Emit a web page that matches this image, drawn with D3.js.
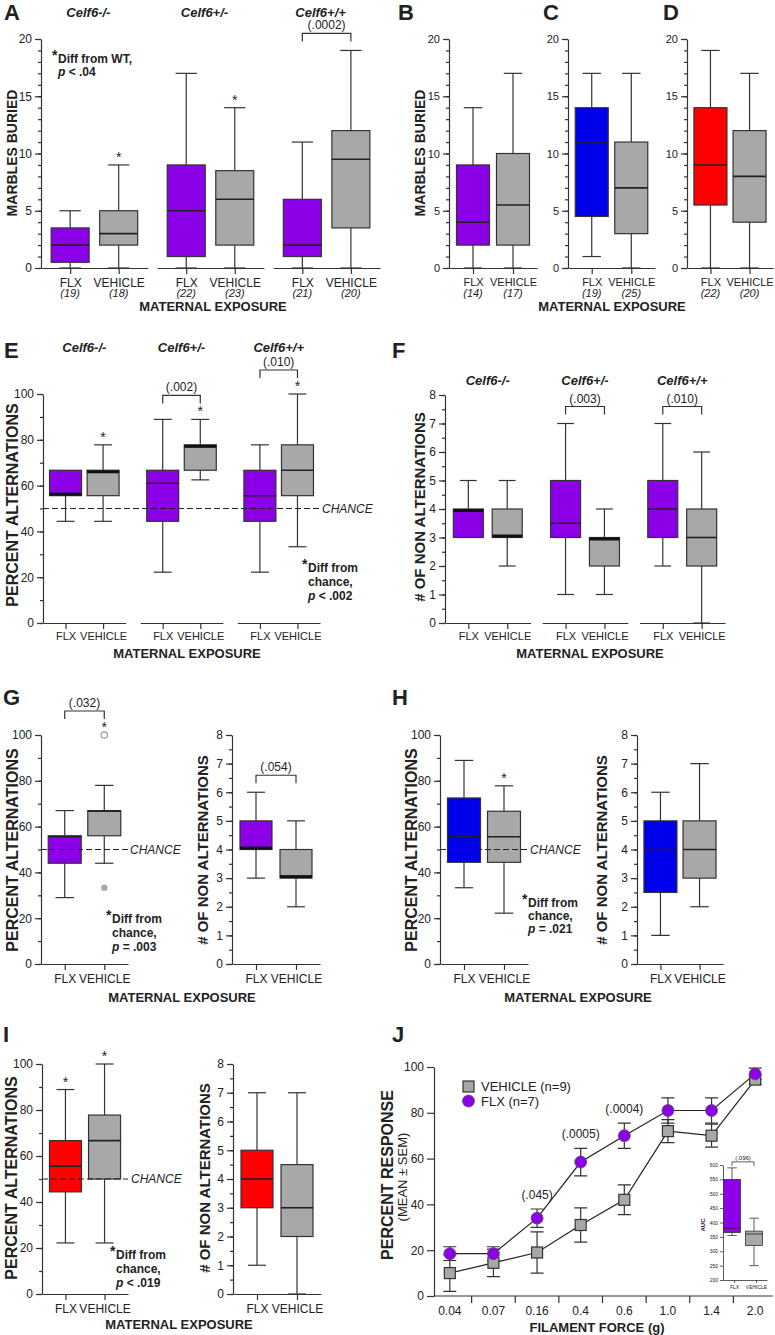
<!DOCTYPE html>
<html>
<head>
<meta charset="utf-8">
<script src="https://cdn.jsdelivr.net/npm/d3@7"></script>
<style>
  body { margin: 0; background: #fff; }
  svg text { font-family: "Liberation Sans", Arial, sans-serif; fill: #222; }
</style>
</head>
<body>
<div class="canvas"></div>
<script>
// ---- data: box stats are [min, q1, median, q3, max] ----
const treatments = ['FLX', 'VEHICLE'];
const genotypes = ['Celf6-/-', 'Celf6+/-', 'Celf6+/+'];

// A: marbles buried by genotype
const marblesA = [[0, 0.5, 2, 3.5, 5], [0, 2, 3, 5, 9], [0, 1, 5, 9, 17], [0, 2, 6, 8.5, 14], [0, 1, 2, 6, 11], [0, 3.5, 9.5, 12, 19]];
const nA = [19, 18, 22, 23, 21, 20];
const starsA = [0, 1, 0, 1, 0, 0];
const pA = [null, null, '(.0002)'];
// B, C, D
const marblesB = [[0, 2, 4, 9, 14], [0, 2, 5.5, 10, 17]];
const nB = [14, 17];
const marblesC = [[1, 4.5, 11, 14, 17], [0, 3, 7, 11, 17]];
const nC = [19, 25];
const marblesD = [[0, 5.5, 9, 14, 19], [0, 4, 8, 12, 17]];
const nD = [22, 20];
// E: percent alternations
const altE = [[44.4, 55.6, 55.6, 66.7, 66.7], [44.4, 55.6, 66.7, 66.7, 77.8], [22.2, 44.4, 61, 66.7, 88.9], [62.5, 66.7, 77.8, 77.8, 88.9], [22.2, 44.4, 55.6, 66.7, 77.8], [33.3, 55.6, 66.7, 77.8, 100]];
const starsE = [0, 1, 0, 1, 0, 1];
const pE = [null, '(.002)', '(.010)'];
// F: # of non alternations
const nonAltF = [[3, 3, 4, 4, 5], [2, 3, 3, 4, 5], [1, 3, 3.5, 5, 7], [1, 2, 3, 3, 4], [2, 3, 4, 5, 7], [0, 2, 3, 4, 6]];
const pF = [null, '(.003)', '(.010)'];
// G
const altG = [[29, 44, 55.6, 56, 67], [44, 56, 66.7, 67, 78]];
const starsG = [0, 1];
const openOutG = [[], [100]];
const filledOutG = [[], [33.3]];
const pG = '(.032)';
const nonAltG = [[3, 4, 4, 5, 6], [2, 3, 3, 4, 5]];
const pGn = '(.054)';
// H
const altH = [[33.3, 44.4, 55.6, 72.5, 88.9], [22.2, 44.4, 55.6, 66.7, 77.8]];
const starsH = [0, 1];
const nonAltH = [[1, 2.5, 4, 5, 6], [2, 3, 4, 5, 7]];
// I
const altI = [[22.2, 44.4, 55.6, 66.7, 88.9], [22.2, 50, 66.7, 77.8, 100]];
const starsI = [1, 1];
const nonAltI = [[1, 3, 4, 5, 7], [0, 2, 3, 4.5, 7]];
// J: von Frey
const forces = ['0.04', '0.07', '0.16', '0.4', '0.6', '1.0', '1.4', '2.0'];
const vehMean = [10, 14.5, 19, 31, 42, 72, 70, 94.5];
const vehSem = [8, 6, 9, 7.5, 6.5, 5, 5, 2];
const flxMean = [18.5, 18.5, 34, 58.5, 70, 81, 81, 97];
const flxSem = [3, 3, 4, 6, 5.5, 5.5, 5.5, 2.5];
const pJ = [null, null, '(.045)', '(.0005)', '(.0004)', null, null, null];
const aucBoxes = [[355, 365, 380, 550, 590], [250, 320, 360, 370, 415]];
const pAuc = '(.096)';

// ---- drawing ----
const PURPLE = '#8c00e8', GRAY = '#a8a8a8', BLUE = '#0000ea', RED = '#ff0000', INK = '#333';

const svg = d3.select('.canvas')
	.append('svg')
	.attr('width', 775)
	.attr('height', 1335);

function txt(x, y, s, o = {}) {
	return svg.append('text')
		.attr('x', x).attr('y', y)
		.attr('text-anchor', o.anchor || 'start')
		.attr('font-size', o.size || 12)
		.attr('font-weight', o.bold ? 'bold' : null)
		.attr('font-style', o.italic ? 'italic' : null)
		.attr('dy', o.dy || null)
		.text(s);
}

function vtxt(x, cy, s, size, bold) {
	svg.append('text')
		.attr('transform', `translate(${x},${cy}) rotate(-90)`)
		.attr('text-anchor', 'middle')
		.attr('font-size', size)
		.attr('font-weight', bold ? 'bold' : null)
		.text(s);
}

function letter(x, y, s) { txt(x, y, s, { size: 22, bold: true }); }

function styleAxis(sel, fs) {
	sel.attr('font-family', null).attr('font-size', null);
	sel.select('.domain').attr('stroke', INK).attr('stroke-width', 1.2);
	sel.selectAll('.tick line').attr('stroke', INK).attr('stroke-width', 1.2);
	sel.selectAll('.tick text').attr('fill', '#222').attr('font-size', fs);
}

function drawBox(g, y, cx, s, color, w) {
	const [mn, q1, md, q3, mx] = s;
	const cap = w * 0.56;
	const line = (x1, y1, x2, y2) => g.append('line')
		.attr('x1', x1).attr('y1', y1).attr('x2', x2).attr('y2', y2)
		.attr('stroke', INK).attr('stroke-width', 1.2);
	line(cx, y(q3), cx, y(mx));
	line(cx, y(q1), cx, y(mn));
	if (mx > q3) line(cx - cap / 2, y(mx), cx + cap / 2, y(mx));
	if (mn < q1) line(cx - cap / 2, y(mn), cx + cap / 2, y(mn));
	g.append('rect')
		.attr('x', cx - w / 2).attr('y', y(q3))
		.attr('width', w).attr('height', y(q1) - y(q3))
		.attr('fill', color).attr('stroke', INK).attr('stroke-width', 1.2);
	if (md === q1) {
		g.append('rect').attr('x', cx - w / 2).attr('y', y(q1) - 3).attr('width', w).attr('height', 3).attr('fill', '#111');
	} else if (md === q3) {
		g.append('rect').attr('x', cx - w / 2).attr('y', y(q3)).attr('width', w).attr('height', 3).attr('fill', '#111');
	} else {
		g.append('line').attr('x1', cx - w / 2).attr('x2', cx + w / 2)
			.attr('y1', y(md)).attr('y2', y(md))
			.attr('stroke', '#222').attr('stroke-width', 1.6);
	}
}

function bracket(x1, x2, top, label, fs) {
	svg.append('path')
		.attr('d', `M${x1},${top + 8}V${top}H${x2}V${top + 8}`)
		.attr('fill', 'none').attr('stroke', INK).attr('stroke-width', 1.2);
	txt((x1 + x2) / 2, top - 4, label, { anchor: 'middle', size: fs || 12 });
}

function chance(y, x0, x1, lx) {
	svg.append('line')
		.attr('x1', x0).attr('x2', x1).attr('y1', y(50)).attr('y2', y(50))
		.attr('stroke', '#222').attr('stroke-width', 1.2)
		.attr('stroke-dasharray', '6,3');
	txt(lx, y(50), 'CHANCE', { italic: true, size: 12, dy: '0.35em' });
}

function note(x, y, lines, gap) {
	txt(x, y - 3, '*', { bold: true, size: 14 });
	lines.forEach((l, i) => {
		const t = txt(x + 6, y + i * gap, '', { bold: true, size: 12 });
		if (l.startsWith('p')) {
			t.append('tspan').attr('font-style', 'italic').text('p');
			t.append('tspan').text(l.slice(1));
		} else t.text(l);
	});
}

// generic box-plot panel
function boxPanel(c) {
	const groups = c.groups || ['all'];
	const y = d3.scaleLinear().domain([0, c.max]).range([c.yBot, c.yTop]);
	const outer = d3.scaleBand().domain(groups).range([c.x0, c.x1]).paddingInner(c.gap || 0);
	const inner = d3.scalePoint().domain(treatments).range([0, outer.bandwidth()]).padding(c.pad || 0.6);
	const cx = i => outer(groups[Math.floor(i / 2)]) + inner(treatments[i % 2]);
	const g = svg.append('g');

	const minor = g.append('g').attr('transform', `translate(${c.x0},0)`)
		.call(d3.axisLeft(y).tickValues(d3.range(0, c.max + 1e-6, c.minor)).tickSize(3).tickFormat(''));
	minor.select('.domain').remove();
	styleAxis(minor, 12);
	const major = g.append('g').attr('transform', `translate(${c.x0},0)`)
		.call(d3.axisLeft(y).tickValues(d3.range(0, c.max + 1e-6, c.major)).tickSize(6).tickSizeOuter(0).tickPadding(3));
	styleAxis(major, c.yfs || 12);

	groups.forEach(gn => {
		const ax = g.append('g').attr('transform', `translate(${outer(gn)},${c.yBot})`)
			.call(d3.axisBottom(inner).tickSize(6).tickSizeOuter(0).tickPadding(c.tickPad || 4));
		styleAxis(ax, c.xfs || 12);
	});

	c.stats.forEach((s, i) => drawBox(g, y, cx(i), s, c.colors[i % 2], c.boxW));

	if (c.n) c.n.forEach((n, i) => txt(cx(i), c.yBot + 29, `(${n})`, { anchor: 'middle', italic: true, size: 11 }));

	const tops = c.stats.map((s, i) => Math.max(s[4], ...((c.outOpen && c.outOpen[i]) || [])));
	if (c.stars) c.stars.forEach((st, i) => {
		if (st) txt(cx(i), y(tops[i]) - 3, '*', { anchor: 'middle', size: 14 });
	});
	if (c.p) c.p.forEach((lab, gi) => {
		if (!lab) return;
		const a = gi * 2, b = gi * 2 + 1;
		const hasStar = c.stars && (c.stars[a] || c.stars[b]);
		const top = y(Math.max(tops[a], tops[b])) - (hasStar ? 24 : 17);
		bracket(cx(a), cx(b), top, lab);
	});
	if (c.titles) groups.forEach(gn => {
		txt(outer(gn) + outer.bandwidth() / 2 + (c.titleShift || 0), c.titleY, gn, { anchor: 'middle', bold: true, italic: true, size: 13 });
	});
	return { y, cx };
}

// ---- Panel A ----
letter(4, 20, 'A');
boxPanel({
	groups: genotypes, titles: true, titleY: 17, titleShift: -6,
	x0: 41, x1: 380, gap: 0.08, pad: 0.6, yBot: 268, yTop: 39, max: 20, major: 5, minor: 1,
	stats: marblesA, colors: [PURPLE, GRAY], boxW: 38, n: nA, stars: starsA, p: pA
});
vtxt(17, 153, 'MARBLES BURIED', 14, true);
note(52, 63, ['Diff from WT,', 'p < .04'], 13);
txt(213, 311, 'MATERNAL EXPOSURE', { anchor: 'middle', bold: true, size: 13 });

// ---- Panels B, C, D ----
letter(398, 20, 'B');
boxPanel({ x0: 449, x1: 537, pad: 0.6, yBot: 268, yTop: 39, max: 20, major: 5, minor: 1, stats: marblesB, colors: [PURPLE, GRAY], boxW: 33, n: nB, yfs: 11, xfs: 11 });
vtxt(425, 153, 'MARBLES BURIED', 14, true);
letter(543, 20, 'C');
boxPanel({ x0: 568, x1: 655, pad: 0.6, yBot: 268, yTop: 39, max: 20, major: 5, minor: 1, stats: marblesC, colors: [BLUE, GRAY], boxW: 33, n: nC, yfs: 11, xfs: 11 });
letter(663, 20, 'D');
boxPanel({ x0: 687, x1: 773, pad: 0.6, yBot: 268, yTop: 39, max: 20, major: 5, minor: 1, stats: marblesD, colors: [RED, GRAY], boxW: 33, n: nD, yfs: 11, xfs: 11 });
txt(612, 311, 'MATERNAL EXPOSURE', { anchor: 'middle', bold: true, size: 13 });

// ---- Panel E ----
letter(4, 358, 'E');
const pe = boxPanel({
	groups: genotypes, titles: true, titleY: 352, titleShift: 0,
	x0: 43, x1: 320, gap: 0.15, pad: 0.6, yBot: 623, yTop: 394, max: 100, major: 20, minor: 10,
	stats: altE, colors: [PURPLE, GRAY], boxW: 32, stars: starsE, p: pE, xfs: 11, tickPad: 3
});
chance(pe.y, 43, 320, 322);
vtxt(18, 505, 'PERCENT ALTERNATIONS', 16, true);
note(302, 572, ['Diff from', 'chance,', 'p < .002'], 14);
txt(187, 658, 'MATERNAL EXPOSURE', { anchor: 'middle', bold: true, size: 13 });

// ---- Panel F ----
letter(392, 358, 'F');
boxPanel({
	groups: genotypes, titles: true, titleY: 385, titleShift: 0,
	x0: 445, x1: 725, gap: 0.12, pad: 0.6, yBot: 623, yTop: 395, max: 8, major: 1, minor: 0.5,
	stats: nonAltF, colors: [PURPLE, GRAY], boxW: 30, p: pF, xfs: 11, tickPad: 3
});
vtxt(425, 507, '# OF NON ALTERNATIONS', 15, true);
txt(590, 658, 'MATERNAL EXPOSURE', { anchor: 'middle', bold: true, size: 13 });

// ---- Panel G ----
letter(3, 705, 'G');
const pg = boxPanel({
	x0: 41, x1: 128, pad: 0.6, yBot: 964, yTop: 735, max: 100, major: 20, minor: 10,
	stats: altG, colors: [PURPLE, GRAY], boxW: 33, stars: starsG, p: [pG], outOpen: openOutG
});
openOutG.forEach((arr, i) => arr.forEach(v => svg.append('circle').attr('cx', pg.cx(i)).attr('cy', pg.y(v)).attr('r', 3.2)
	.attr('fill', '#fff').attr('stroke', '#999').attr('stroke-width', 1.2)));
filledOutG.forEach((arr, i) => arr.forEach(v => svg.append('circle').attr('cx', pg.cx(i)).attr('cy', pg.y(v)).attr('r', 3.2)
	.attr('fill', '#aaa')));
chance(pg.y, 41, 128, 130);
vtxt(18, 850, 'PERCENT ALTERNATIONS', 16, true);
note(106, 923, ['Diff from', 'chance,', 'p = .003'], 14);
boxPanel({ x0: 232, x1: 320, pad: 0.6, yBot: 964, yTop: 735, max: 8, major: 1, minor: 0.5, stats: nonAltG, colors: [PURPLE, GRAY], boxW: 32, p: [pGn] });
vtxt(208, 850, '# OF NON ALTERNATIONS', 15, true);
txt(182, 1002, 'MATERNAL EXPOSURE', { anchor: 'middle', bold: true, size: 13 });

// ---- Panel H ----
letter(392, 705, 'H');
const ph = boxPanel({ x0: 440, x1: 528, pad: 0.6, yBot: 964, yTop: 735, max: 100, major: 20, minor: 10, stats: altH, colors: [BLUE, GRAY], boxW: 33, stars: starsH });
chance(ph.y, 440, 528, 530);
vtxt(417, 850, 'PERCENT ALTERNATIONS', 16, true);
note(522, 907, ['Diff from', 'chance,', 'p = .021'], 13);
boxPanel({ x0: 637, x1: 723, pad: 0.6, yBot: 964, yTop: 735, max: 8, major: 1, minor: 0.5, stats: nonAltH, colors: [BLUE, GRAY], boxW: 33 });
vtxt(607, 850, '# OF NON ALTERNATIONS', 15, true);
txt(578, 1002, 'MATERNAL EXPOSURE', { anchor: 'middle', bold: true, size: 13 });

// ---- Panel I ----
letter(3, 1042, 'I');
const pi = boxPanel({ x0: 42, x1: 128, pad: 0.6, yBot: 1294, yTop: 1064, max: 100, major: 20, minor: 10, stats: altI, colors: [RED, GRAY], boxW: 32, stars: starsI });
chance(pi.y, 42, 128, 131);
vtxt(17, 1178, 'PERCENT ALTERNATIONS', 16, true);
note(110, 1259, ['Diff from', 'chance,', 'p < .019'], 14);
boxPanel({ x0: 233, x1: 321, pad: 0.6, yBot: 1294, yTop: 1064, max: 8, major: 1, minor: 0.5, stats: nonAltI, colors: [RED, GRAY], boxW: 32 });
vtxt(210, 1178, '# OF NON ALTERNATIONS', 15, true);
txt(179, 1329, 'MATERNAL EXPOSURE', { anchor: 'middle', bold: true, size: 13 });

// ---- Panel J ----
letter(392, 1042, 'J');
const yJ = d3.scaleLinear().domain([0, 100]).range([1296, 1067]);
const xJ = d3.scaleBand().domain(forces).range([428, 777]);
const mid = f => xJ(f) + xJ.bandwidth() / 2;
const gJ = svg.append('g');
const yAxJ = gJ.append('g').attr('transform', 'translate(434,0)')
	.call(d3.axisLeft(yJ).tickValues(d3.range(0, 101, 20)).tickSize(7).tickSizeOuter(0).tickPadding(3));
styleAxis(yAxJ, 12);
gJ.append('line').attr('x1', 434).attr('x2', 773).attr('y1', yJ(0)).attr('y2', yJ(0)).attr('stroke', INK).attr('stroke-width', 1.2);
forces.slice(1).forEach(f => gJ.append('line').attr('x1', xJ(f)).attr('x2', xJ(f))
	.attr('y1', yJ(0)).attr('y2', yJ(0) + 7).attr('stroke', INK).attr('stroke-width', 1.2));
forces.forEach(f => txt(mid(f), 1315, f, { anchor: 'middle', size: 12 }));
txt(597, 1332, 'FILAMENT FORCE (g)', { anchor: 'middle', bold: true, size: 13 });
vtxt(393, 1175, 'PERCENT RESPONSE', 16, true);
vtxt(407, 1177, '(MEAN \u00b1 SEM)', 13, false);

function errBars(means, sems) {
	means.forEach((m, i) => {
		const x = mid(forces[i]);
		const lo = yJ(m - sems[i]), hi = yJ(m + sems[i]);
		gJ.append('path').attr('d', `M${x},${lo}V${hi}M${x - 6.5},${lo}H${x + 6.5}M${x - 6.5},${hi}H${x + 6.5}`)
			.attr('fill', 'none').attr('stroke', INK).attr('stroke-width', 1.2);
	});
}
errBars(vehMean, vehSem);
errBars(flxMean, flxSem);
const lineJ = d3.line().x((d, i) => mid(forces[i])).y(d => yJ(d));
gJ.append('path').attr('d', lineJ(vehMean)).attr('fill', 'none').attr('stroke', '#222').attr('stroke-width', 1.2);
gJ.append('path').attr('d', lineJ(flxMean)).attr('fill', 'none').attr('stroke', '#222').attr('stroke-width', 1.2);
vehMean.forEach((m, i) => gJ.append('rect').attr('x', mid(forces[i]) - 5.5).attr('y', yJ(m) - 5.5)
	.attr('width', 11).attr('height', 11).attr('fill', GRAY).attr('stroke', INK).attr('stroke-width', 1.2));
flxMean.forEach((m, i) => gJ.append('circle').attr('cx', mid(forces[i])).attr('cy', yJ(m)).attr('r', 6)
	.attr('fill', PURPLE).attr('stroke', '#555').attr('stroke-width', 0.8));
pJ.forEach((p, i) => {
	if (p) txt(mid(forces[i]), yJ(flxMean[i] + flxSem[i]) - 10, p, { anchor: 'middle', size: 12 });
});
// legend
gJ.append('rect').attr('x', 463).attr('y', 1081).attr('width', 11).attr('height', 11).attr('fill', GRAY).attr('stroke', INK).attr('stroke-width', 1.2);
gJ.append('circle').attr('cx', 468.5).attr('cy', 1101).attr('r', 6).attr('fill', PURPLE).attr('stroke', '#555').attr('stroke-width', 0.8);
txt(481, 1086, 'VEHICLE (n=9)', { size: 13, dy: '0.35em' });
txt(481, 1101, 'FLX (n=7)', { size: 13, dy: '0.35em' });

// inset AUC
const yA = d3.scaleLinear().domain([200, 600]).range([1280, 1165]);
const xA = d3.scalePoint().domain(treatments).range([723, 767]).padding(0.5);
const gi = svg.append('g');
const iax = gi.append('g').attr('transform', 'translate(723,0)')
	.call(d3.axisLeft(yA).tickValues(d3.range(200, 601, 50)).tickSize(3).tickSizeOuter(0).tickPadding(2));
styleAxis(iax, 5);
iax.selectAll('.domain, .tick line').attr('stroke-width', 0.8);
const ibx = gi.append('g').attr('transform', 'translate(0,1280)')
	.call(d3.axisBottom(xA).tickSize(3).tickSizeOuter(0).tickPadding(2));
styleAxis(ibx, 5);
ibx.selectAll('.domain, .tick line').attr('stroke-width', 0.8);
aucBoxes.forEach((s, i) => drawBox(gi, yA, xA(treatments[i]) - 2, s, [PURPLE, GRAY][i], 17));
gi.selectAll('line, rect').filter(function () { return !this.closest('.tick'); }).attr('stroke-width', 0.8);
svg.append('path')
	.attr('d', `M${xA('FLX') - 2},${yA(590) - 2}V${yA(590) - 6}H${xA('VEHICLE') - 2}V${yA(590) - 2}`)
	.attr('fill', 'none').attr('stroke', INK).attr('stroke-width', 0.8);
txt((xA('FLX') + xA('VEHICLE')) / 2 - 2, yA(590) - 8, pAuc, { anchor: 'middle', size: 6 });
vtxt(705, 1225, 'AUC', 6, true);
</script>
</body>
</html>
